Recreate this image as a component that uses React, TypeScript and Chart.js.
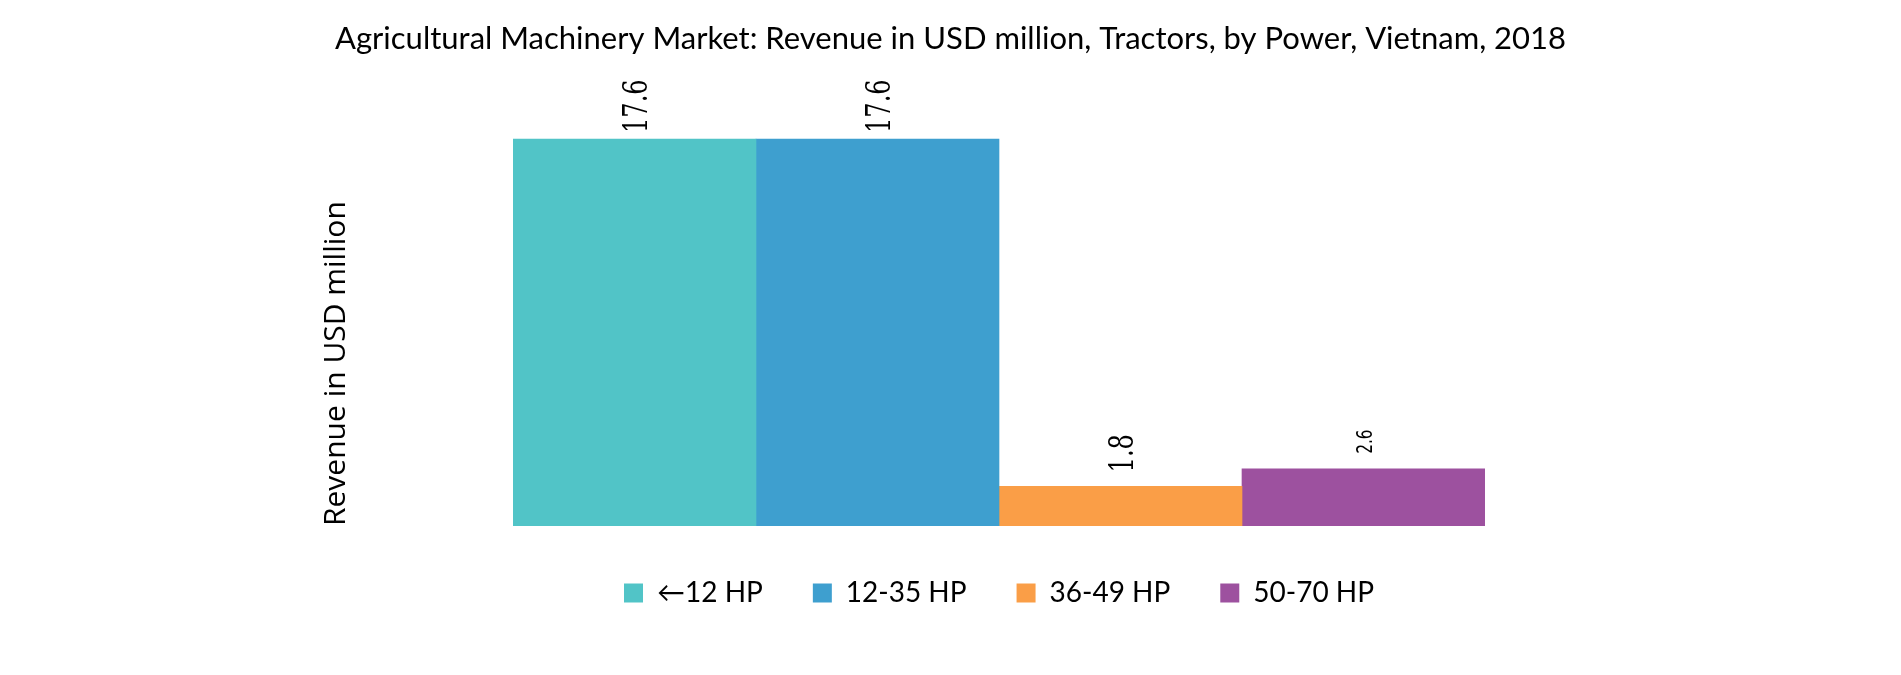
import { useEffect, useRef } from 'react';
import { Chart, registerables } from 'chart.js';

Chart.register(...registerables);

const TITLE = 'Agricultural Machinery Market: Revenue in USD million, Tractors, by Power, Vietnam, 2018';
const Y_TITLE = 'Revenue in USD million';
const CATEGORIES = ['2018'];
const SERIES = ['←12 HP', '12-35 HP', '36-49 HP', '50-70 HP'];
const VALUES = [17.6, 17.6, 1.8, 2.6];
const COLORS = ['#51C4C7', '#3E9FCF', '#FA9E47', '#9D519F'];
const Y_MAX = 20;

// presentation of the value labels (gap above bar, font, horizontal squeeze)
const LABEL_STYLE = [
  { gap: 6, size: 33, family: 'DejaVu Serif', squeeze: 0.73 },
  { gap: 6, size: 33, family: 'DejaVu Serif', squeeze: 0.73 },
  { gap: 14, size: 33, family: 'DejaVu Serif', squeeze: 0.73 },
  { gap: 15, size: 22, family: 'DejaVu Sans', squeeze: 0.7 },
];

const valueLabels = {
  id: 'valueLabels',
  afterDatasetsDraw(chart: any) {
    const ctx = chart.ctx;
    chart.data.datasets.forEach((ds: any, i: number) => {
      const meta = chart.getDatasetMeta(i);
      const bar = meta.data[0];
      if (!bar) return;
      const st = LABEL_STYLE[i];
      const capH = 0.729 * st.size;
      ctx.save();
      ctx.translate(bar.x, bar.y - st.gap);
      ctx.rotate(-Math.PI / 2);
      ctx.scale(st.squeeze, 1);
      ctx.font = `${st.size}px "${st.family}"`;
      ctx.fillStyle = '#000';
      ctx.textAlign = 'left';
      ctx.textBaseline = 'alphabetic';
      ctx.fillText(Number(ds.data[0]).toFixed(1), 0, capH / 2);
      ctx.restore();
    });
  },
};

export default function App() {
  const ref = useRef<HTMLCanvasElement | null>(null);

  useEffect(() => {
    if (!ref.current) return;
    Chart.defaults.font.family = 'Lato';
    Chart.defaults.color = '#000';
    const chart = new Chart(ref.current, {
      type: 'bar',
      data: {
        labels: CATEGORIES,
        datasets: SERIES.map((name, i) => ({
          label: name,
          data: [VALUES[i]],
          backgroundColor: COLORS[i],
          borderWidth: 0,
          barPercentage: 1,
          categoryPercentage: 1,
        })),
      },
      options: {
        animation: false,
        responsive: true,
        maintainAspectRatio: false,
        layout: { padding: { left: 0, right: 0, top: 0, bottom: 50 } },
        plugins: {
          title: {
            display: true,
            text: TITLE,
            color: '#000',
            font: { family: 'Lato', size: 31, weight: 'normal' },
            padding: { top: 12, bottom: 29 },
          },
          legend: {
            display: true,
            position: 'bottom',
            fullSize: false,
            labels: {
              boxWidth: 19,
              boxHeight: 19,
              padding: 50,
              color: '#000',
              font: { family: 'Lato', size: 28 },
            },
          },
          tooltip: { enabled: false },
        },
        scales: {
          x: {
            display: true,
            grid: { display: false, drawTicks: false },
            border: { display: false },
            ticks: { display: false },
            afterFit: (s: any) => { s.height = 3; },
          },
          y: {
            display: true,
            position: 'left',
            min: 0,
            max: Y_MAX,
            grid: { display: false, drawTicks: false },
            border: { display: false },
            ticks: { display: false },
            title: {
              display: true,
              text: Y_TITLE,
              align: 'start',
              color: '#000',
              font: { family: 'Open Sans', size: 30 },
              padding: { top: 310, bottom: 0 },
            },
            afterFit: (s: any) => { s.width = 505; },
          },
          y2: {
            display: true,
            position: 'right',
            grid: { display: false, drawTicks: false },
            border: { display: false },
            ticks: { display: false },
            afterFit: (s: any) => { s.width = 408; },
          },
        },
      } as any,
      plugins: [valueLabels],
    });
    return () => chart.destroy();
  }, []);

  return (
    <div style={{ width: '100%', height: 659 }}>
      <canvas ref={ref} />
    </div>
  );
}
